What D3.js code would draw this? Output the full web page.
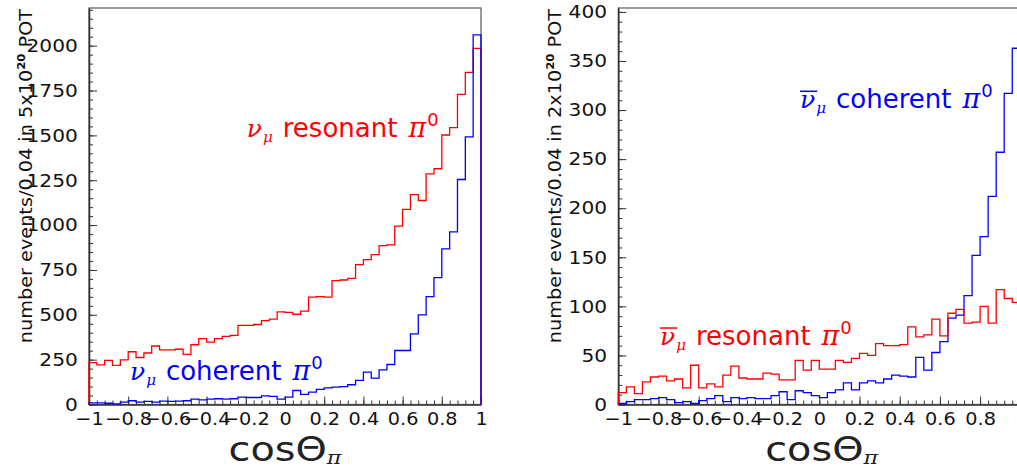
<!DOCTYPE html>
<html>
<head>
<meta charset="utf-8">
<script src="https://cdn.jsdelivr.net/npm/d3@7"></script>
<style>
  body { margin: 0; background: #fff; }
  svg { display: block; }
</style>
</head>
<body>
<script>
// histogram settings: 50 bins of 0.04 in cos(theta_pi)
var xMin = -1, xMax = 1, binW = 0.04;

// neutrino mode, 5x10^20 POT
var nuResonant = [233, 221, 246, 218, 249, 294, 262, 287, 326, 305,
                  304, 308, 279, 333, 367, 348, 367, 380, 385, 441,
                  441, 446, 467, 476, 516, 514, 503, 521, 598, 601,
                  598, 690, 694, 703, 780, 808, 835, 886, 890, 994,
                  1088, 1170, 1137, 1286, 1314, 1502, 1543, 1729, 1851, 1985];
var nuCoherent = [9, 9, 7, 3, 13, 21, 13, 17, 13, 19,
                  17, 19, 21, 30, 26, 30, 32, 30, 32, 41,
                  39, 39, 48, 45, 30, 41, 78, 56, 69, 84,
                  93, 97, 100, 110, 134, 180, 147, 193, 223, 301,
                  301, 394, 499, 601, 707, 867, 962, 1254, 1492, 2060];

// antineutrino mode, 2x10^20 POT
var nubarResonant = [12, 18, 11, 23, 28, 29, 24, 26, 17, 40,
                     17, 21, 18, 30, 39, 27, 26, 26, 32, 31,
                     25, 25, 45, 35, 45, 36, 36, 45, 43, 47,
                     52, 50, 62, 60, 60, 61, 79, 69, 71, 87,
                     70, 93, 97, 83, 84, 100, 83, 117, 108, 104];
var nubarCoherent = [1, 3, 5, 5, 6, 7, 5, 2, 3, 1,
                     4, 6, 9, 3, 7, 6, 7, 6, 6, 9,
                     13, 5, 14, 12, 9, 7, 12, 15, 22, 15,
                     22, 24, 22, 26, 30, 29, 28, 48, 35, 53,
                     64, 88, 91, 111, 152, 171, 212, 257, 317, 363];

var xTicks = [-1, -0.8, -0.6, -0.4, -0.2, 0, 0.2, 0.4, 0.6, 0.8, 1];
var xTickLabels = ["\u22121", "\u22120.8", "\u22120.6", "\u22120.4", "\u22120.2", "0", "0.2", "0.4", "0.6", "0.8", "1"];
var leftYTicks = [0, 250, 500, 750, 1000, 1250, 1500, 1750, 2000];
var rightYTicks = [0, 50, 100, 150, 200, 250, 300, 350, 400];

var width = 1017, height = 470;
var red = "#ff0000", blue = "#0000ff";
var tickFont = "DejaVu Sans";

var svg = d3.select("body").append("svg")
  .attr("width", width)
  .attr("height", height);

function histPoints(vals) {
  var pts = [[xMin, 0]];
  vals.forEach(function (v, i) {
    var lo = xMin + i * binW;
    pts.push([lo, v], [lo + binW, v]);
  });
  pts.push([xMax, 0]);
  return pts;
}

// nu label: nu (optionally barred), mu subscript, word, pi superscript 0
function label(g, x, y, color, bar, word) {
  var grp = g.append("g").attr("transform", "translate(" + x + "," + y + ")");
  var t = grp.append("text").attr("fill", color).attr("font-family", "DejaVu Sans");
  var nu = t.append("tspan").text("\u03bd")
    .attr("font-family", "DejaVu Serif").attr("font-style", "italic").attr("font-size", 25);
  t.append("tspan").text("\u03bc")
    .attr("font-family", "DejaVu Serif").attr("font-style", "italic").attr("font-size", 15)
    .attr("dx", 1).attr("dy", 5);
  t.append("tspan").text(word).attr("font-size", 26).attr("dx", 10).attr("dy", -5);
  t.append("tspan").text("\u03c0")
    .attr("font-family", "DejaVu Serif").attr("font-style", "italic").attr("font-size", 27).attr("dx", 11);
  t.append("tspan").text("0").attr("font-size", 18)
    .attr("dx", 1).attr("dy", -11);
  if (bar) {
    var r = nu.node().getExtentOfChar(0);
    grp.append("line")
      .attr("x1", r.x).attr("x2", r.x + r.width + 2)
      .attr("y1", -17).attr("y2", -17)
      .attr("stroke", color).attr("stroke-width", 1.5);
  }
}

function panel(o) {
  var x = d3.scaleLinear().domain([xMin, xMax]).range([o.x0, o.x1]);
  var y = d3.scaleLinear().domain([0, o.yMax]).range([404.5, 8]);
  var g = svg.append("g");
  var shownX = xTicks.filter(function (d) { return x(d) < width - 8; });

  // frame
  g.append("rect")
    .attr("x", o.x0).attr("y", 8)
    .attr("width", o.x1 - o.x0).attr("height", 404.5 - 8)
    .attr("fill", "none").attr("stroke", "#666").attr("stroke-width", 1.3);

  // minor ticks
  g.append("g").attr("transform", "translate(0,404.5)")
    .call(d3.axisBottom(x).tickValues(d3.range(0, 51).map(function (i) { return xMin + i * binW; }))
      .tickSize(-4).tickFormat(""))
    .call(function (s) { s.select(".domain").remove(); s.selectAll("line").attr("stroke", "#333"); });
  g.append("g").attr("transform", "translate(" + o.x0 + ",0)")
    .call(d3.axisLeft(y).tickValues(d3.range(0, o.yMax, o.yMinor))
      .tickSize(-4).tickFormat(""))
    .call(function (s) { s.select(".domain").remove(); s.selectAll("line").attr("stroke", "#333"); });

  // major ticks + labels
  var xa = g.append("g").attr("transform", "translate(0,404.5)")
    .call(d3.axisBottom(x).tickValues(shownX).tickSize(-8).tickSizeOuter(0).tickPadding(8)
      .tickFormat(function (d) { return xTickLabels[xTicks.indexOf(d)]; }));
  var ya = g.append("g").attr("transform", "translate(" + o.x0 + ",0)")
    .call(d3.axisLeft(y).tickValues(o.yTicks).tickSize(-8).tickSizeOuter(0).tickPadding(10)
      .tickFormat(d3.format("d")));
  [xa, ya].forEach(function (a, k) {
    a.select(".domain").attr("stroke", "#333").attr("stroke-width", 1.6);
    a.selectAll("line").attr("stroke", "#333");
    a.selectAll("text")
      .attr("font-family", tickFont).attr("font-size", 18).attr("fill", "#111")
      .attr("transform", k === 0 ? "scale(1.07,1)" : "scale(1.12,1)");
  });

  // histograms
  var line = d3.line().x(function (d) { return x(d[0]); }).y(function (d) { return y(d[1]); });
  o.series.forEach(function (s) {
    g.append("path")
      .attr("d", line(histPoints(s.values)))
      .attr("fill", "none").attr("stroke", s.color).attr("stroke-width", 1.3);
  });

  // labels
  o.labels.forEach(function (l) {
    label(g, x(l.x), y(l.y), l.color, l.bar, l.word);
  });

  // axis titles
  var xt = g.append("g")
    .attr("transform", "translate(" + ((o.x0 + Math.min(o.x1, width)) / 2 + o.titleShift) + ",461) scale(1.17,1)")
    .append("text").attr("text-anchor", "middle")
    .attr("font-family", tickFont).attr("fill", "#222").attr("font-size", 34);
  xt.append("tspan").text("cos\u0398");
  xt.append("tspan").text("\u03c0").attr("font-size", 19).attr("dy", 3)
    .attr("font-family", "DejaVu Serif").attr("font-style", "italic");

  var yt = g.append("g")
    .attr("transform", "translate(" + (o.x0 - 57) + ",176) rotate(-90) scale(1.07,1)")
    .append("text").attr("text-anchor", "middle")
    .attr("font-family", tickFont).attr("fill", "#111").attr("font-size", 18);
  yt.append("tspan").text("number events/0.04 in " + o.pot + "x10");
  yt.append("tspan").text("20").attr("font-size", 11).attr("font-weight", "bold").attr("dy", -7);
  yt.append("tspan").text(" POT").attr("dy", 7);
}

panel({
  x0: 89, x1: 481, yMax: 2210, yTicks: leftYTicks, yMinor: 50, pot: 5, titleShift: 0,
  series: [{ values: nuResonant, color: red }, { values: nuCoherent, color: blue }],
  labels: [
    { x: -0.195, y: 1493, color: red, bar: false, word: "resonant" },
    { x: -0.791, y: 137, color: blue, bar: false, word: "coherent" }
  ]
});

panel({
  x0: 618.3, x1: 1020.3, yMax: 404, yTicks: rightYTicks, yMinor: 10, pot: 2, titleShift: 4,
  series: [{ values: nubarCoherent, color: blue }, { values: nubarResonant, color: red }],
  labels: [
    { x: -0.7925, y: 60.6, color: red, bar: true, word: "resonant" },
    { x: -0.096, y: 301.8, color: blue, bar: true, word: "coherent" }
  ]
});
</script>
</body>
</html>
